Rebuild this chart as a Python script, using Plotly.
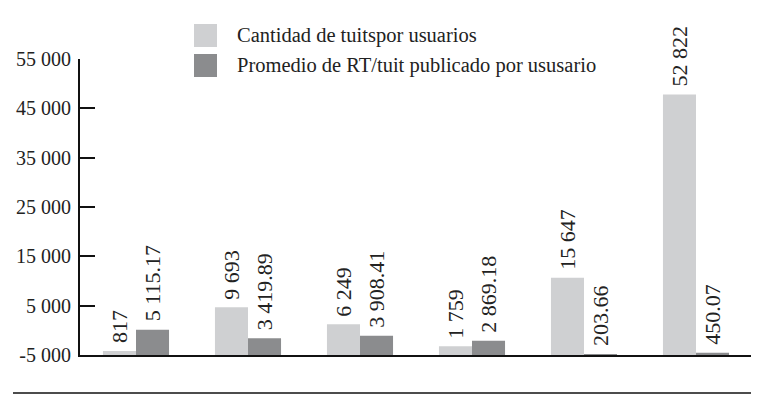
import plotly.graph_objects as go

categories = ["1", "2", "3", "4", "5", "6"]
series_names = ["Cantidad de tuitspor usuarios", "Promedio de RT/tuit publicado por ususario"]
tuits = [817, 9693, 6249, 1759, 15647, 52822]
rt_avg = [5115.17, 3419.89, 3908.41, 2869.18, 203.66, 450.07]
tick_vals = [-5000, 5000, 15000, 25000, 35000, 45000, 55000]
tick_text = ["-5 000", "5 000", "15 000", "25 000", "35 000", "45 000", "55 000"]
axis_base = -5000

colors = ["#cfd0d2", "#8b8c8e"]
FONT = "Liberation Serif"

def fmt_int(v):
    return f"{v:,}".replace(",", " ")

def fmt_dec(v):
    return f"{v:,.2f}".replace(",", " ")

x = list(range(len(categories)))

# page body has an 8px margin; lay the figure out in page pixels
OFF = 8
W, H = 759 - OFF, 398 - OFF
plot_left, plot_right, plot_top, plot_bottom = 80, 752, 59, 355
L = plot_left - OFF
T = plot_top - OFF
R = W - (plot_right - OFF)
B = H - (plot_bottom - OFF)
pw, ph = W - L - R, H - T - B
bar_px = pw / len(categories) * (1 - 0.41) / 2

fig = go.Figure()
fig.add_trace(go.Bar(
    x=x, y=tuits, base=axis_base, name=series_names[0],
    marker=dict(color=colors[0], line=dict(width=0)), showlegend=False,
))
fig.add_trace(go.Bar(
    x=x, y=rt_avg, base=axis_base, name=series_names[1],
    marker=dict(color=colors[1], line=dict(width=0)), showlegend=False,
))

def px_x(p):
    return (p - plot_left) / pw

def px_y(p):
    return (plot_bottom - p) / ph

shapes = []
annotations = []

# value labels above bars
for vals, fmt, shift in [(tuits, fmt_int, -bar_px / 2), (rt_avg, fmt_dec, bar_px / 2)]:
    for xi, v in zip(x, vals):
        annotations.append(dict(x=xi, y=axis_base + v, xref="x", yref="y",
                                xshift=shift, yshift=6, textangle=-90,
                                xanchor="center", yanchor="bottom", showarrow=False,
                                text=fmt(v),
                                font=dict(family=FONT, size=22, color="#222")))

legend_rows = [(24, 47), (54, 77)]
for i, (y0, y1) in enumerate(legend_rows):
    shapes.append(dict(type="rect", xref="paper", yref="paper",
                       x0=px_x(194), x1=px_x(217), y0=px_y(y1), y1=px_y(y0),
                       fillcolor=colors[i], line=dict(width=0)))
    annotations.append(dict(xref="paper", yref="paper", x=px_x(235), y=px_y((y0 + y1) / 2),
                            xanchor="left", yanchor="middle", showarrow=False,
                            text=series_names[i],
                            font=dict(family=FONT, size=20.5, color="#222")))
# bottom rule
shapes.append(dict(type="line", xref="paper", yref="paper",
                   x0=px_x(13), x1=px_x(755), y0=px_y(393), y1=px_y(393),
                   line=dict(color="#111", width=1.5)))

fig.update_layout(
    width=W, height=H,
    margin=dict(l=L, r=R, t=T, b=B, pad=0, autoexpand=False),
    paper_bgcolor="white", plot_bgcolor="white",
    barmode="group", bargap=0.41, bargroupgap=0,
    shapes=shapes, annotations=annotations,
    showlegend=False,
    xaxis=dict(range=[-0.5, 5.5], showticklabels=False, ticks="", showgrid=False,
               zeroline=False, showline=True, linecolor="#111", linewidth=1.5,
               automargin=False),
    yaxis=dict(range=[-5000, 55000], tickvals=tick_vals, ticktext=tick_text,
               ticks="inside", ticklen=15, tickwidth=2, tickcolor="#111",
               showgrid=False, zeroline=False, showline=True, linecolor="#111", linewidth=2,
               tickfont=dict(family=FONT, size=20, color="#222"), ticklabelstandoff=3,
               automargin=False),
)

fig.write_html("out.html")
